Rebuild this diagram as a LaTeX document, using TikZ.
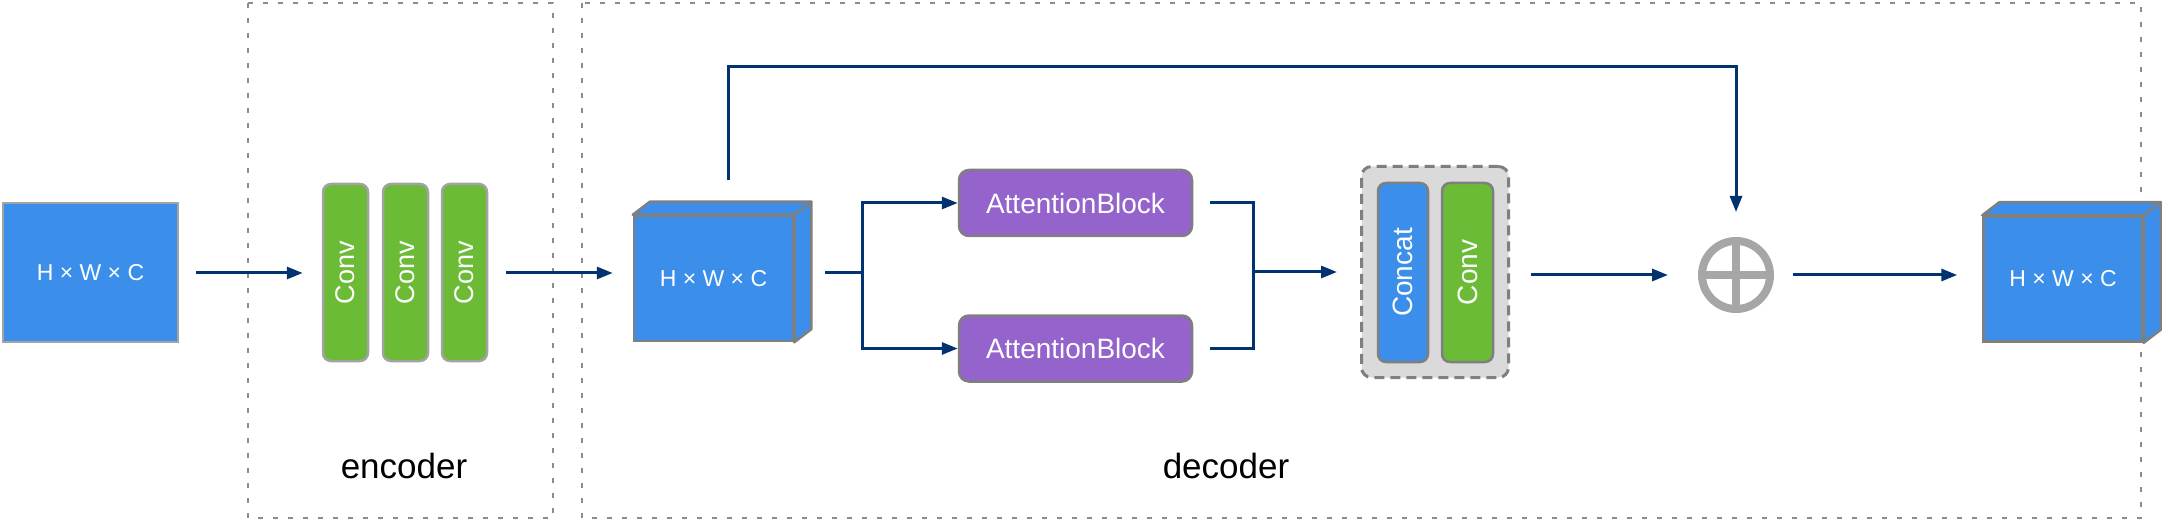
\documentclass[tikz,border=0pt]{standalone}
\usepackage{fontspec}
\setmainfont{Liberation Sans}
\usepackage{graphicx}
\usepackage{xcolor}
\usetikzlibrary{arrows.meta, positioning, calc}

\definecolor{featblue}{HTML}{3B8FEA}
\definecolor{convgreen}{HTML}{6BBB37}
\definecolor{attnpurple}{HTML}{9563CC}
\definecolor{linknavy}{HTML}{003370}
\definecolor{darkedge}{HTML}{7F7F7F}
\definecolor{lightedge}{HTML}{A3A3A3}
\definecolor{framegray}{HTML}{8C8C8C}
\definecolor{groupgray}{HTML}{DADADA}
\definecolor{sumgray}{HTML}{A6A6A6}

\begin{document}
\begin{tikzpicture}[
    x=1pt, y=-1pt,
    feat/.style={rectangle, draw=darkedge, fill=featblue, line width=2.5pt, text=white, inner sep=0pt, minimum width=159pt, minimum height=125pt, font=\fontsize{23}{23}\selectfont},
    cubeface/.style={draw=darkedge, fill=featblue, line width=2.5pt, line join=round},
    convbox/.style={rectangle, draw=lightedge, fill=convgreen, line width=2.5pt, rounded corners=8pt, inner sep=0pt, minimum width=45pt, minimum height=177pt, text=white, font=\fontsize{27}{27}\selectfont},
    attn/.style={rectangle, draw=darkedge, fill=attnpurple, line width=2.5pt, rounded corners=10pt, inner sep=0pt, minimum width=233pt, minimum height=66pt, text=white, font=\fontsize{28}{28}\selectfont},
    group/.style={rectangle, draw=darkedge, fill=groupgray, line width=3pt, dash pattern=on 10pt off 6pt, rounded corners=10pt, inner sep=0pt},
    frame/.style={draw=framegray, line width=2.7pt, dash pattern=on 5pt off 10pt},
    line/.style={draw=linknavy, line width=3pt},
    arrow/.style={line, -{Triangle[length=16pt, width=12pt]}},
    label/.style={font=\fontsize{35}{35}\selectfont}
]
    \useasboundingbox (0,0) rectangle (2162,521);

    % frames
    \draw [frame] (248,3) rectangle (553,518);
    \draw [frame] (582,3) rectangle (2141,518);
    \node [label] (enclabel) at (404,466) {encoder};
    \node [label] (declabel) at (1226,466) {decoder};

    % input
    \node [feat, draw=lightedge, minimum width=175pt, minimum height=139pt] (input) at (90.5,272.5) {H × W × C};

    % encoder
    \node [convbox] (conv1) at (345.5,272.5) {\rotatebox{90}{Conv}};
    \node [convbox] (conv2) at (405.5,272.5) {\rotatebox{90}{Conv}};
    \node [convbox] (conv3) at (464.5,272.5) {\rotatebox{90}{Conv}};

    % feature cubes
    \node [feat] (cube1) at (713.5,278.5) {H × W × C};
    \node [feat] (cube2) at (2063,279) {H × W × C};
    \foreach \c in {cube1, cube2} {
        \draw [cubeface] (\c.north west) -- ++(17,-13) -- ($(\c.north east)+(17,-13)$) -- (\c.north east) -- cycle;
        \draw [cubeface] (\c.north east) -- ++(17,-13) -- ($(\c.south east)+(17,-13)$) -- (\c.south east) -- cycle;
    }

    % decoder
    \node [attn] (attn1) at (1075.5,203) {AttentionBlock};
    \node [attn] (attn2) at (1075.5,348.5) {AttentionBlock};

    \node [group, minimum width=147pt, minimum height=211pt] (fuse) at (1435,272) {};
    \node [convbox, draw=darkedge, fill=featblue, minimum width=50pt, minimum height=179pt, font=\fontsize{28}{28}\selectfont] (concat) at (1403,272.5) {\rotatebox{90}{Concat}};
    \node [convbox, draw=darkedge, minimum width=51pt, minimum height=179pt, font=\fontsize{28}{28}\selectfont] (conv4) at (1467.5,272.5) {\rotatebox{90}{Conv}};

    \node [circle, draw=sumgray, line width=8pt, minimum size=68pt, inner sep=0pt] (sum) at (1736,275) {};
    \draw [sumgray, line width=8pt] (sum.north) -- (sum.south) (sum.west) -- (sum.east);

    % connectors
    \draw [arrow, shorten <=17pt, shorten >=19pt] (input.east |- 0,273) -- (conv1.west |- 0,273);
    \draw [arrow, shorten <=18pt, shorten >=20pt] (conv3.east |- 0,273) -- (cube1.west |- 0,273);

    \coordinate (split) at (862,273);
    \draw [line] ($(cube1.east |- split)+(31,0)$) -- (split);
    \draw [arrow] (split) |- (attn1.west);
    \draw [arrow] (split) |- (attn2.west);

    \coordinate (merge) at (1253,272);
    \draw [line, shorten <=17pt] (attn1.east) -| (merge);
    \draw [line, shorten <=17pt] (attn2.east) -| (merge);
    \draw [arrow, shorten >=23pt] (merge) -- (fuse.west |- merge);

    \draw [arrow, shorten <=21pt, shorten >=30pt] (fuse.east |- sum) -- (sum.west);
    \draw [arrow, shorten <=19pt, shorten >=25pt] (sum.east) -- (cube2.west |- sum);

    \coordinate (skip) at (728,180);
    \draw [arrow, shorten >=25pt] (skip) -- (728,67) -| (sum.north);

\end{tikzpicture}
\end{document}
